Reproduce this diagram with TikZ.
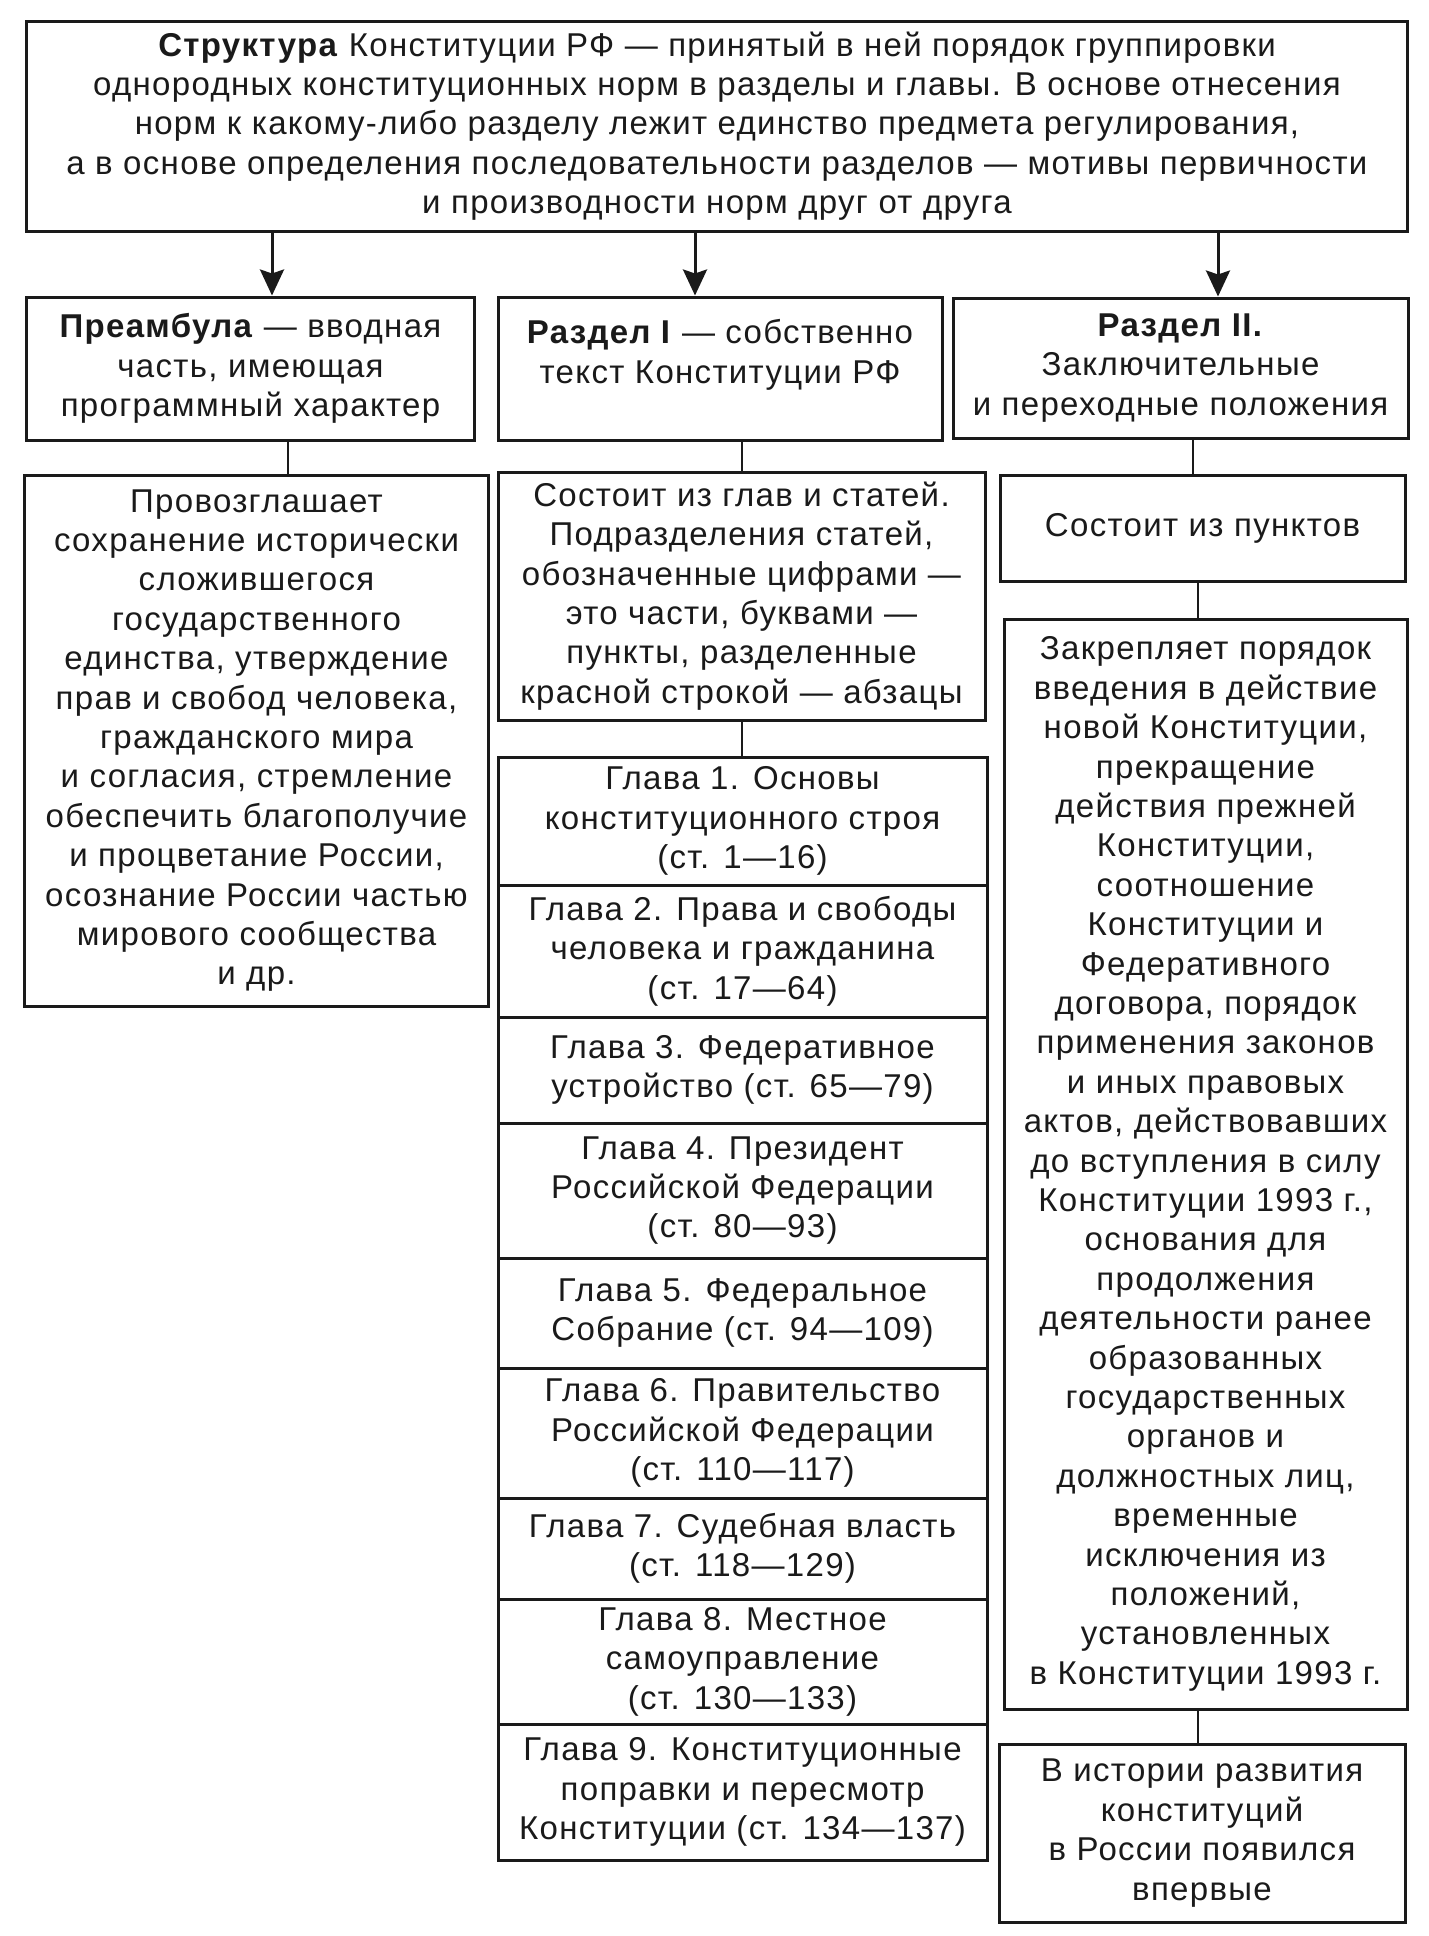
\documentclass[tikz,border=0pt]{standalone}
\usepackage{fontspec}
\setmainfont{Liberation Sans}[LetterSpace=4]
\usetikzlibrary{arrows.meta}
\definecolor{ink}{HTML}{1A1A1A}
\tikzset{
  box/.style={draw=ink, line width=3bp, inner sep=0pt, align=center, text=ink,
    font=\fontsize{33bp}{39.4bp}\selectfont},
  txt/.style={inner sep=0pt, align=center, text=ink, font=\fontsize{33bp}{39.4bp}\selectfont},
  conn/.style={draw=ink, line width=2.5bp},
  arr/.style={draw=ink, line width=3bp, -{Stealth[length=26bp,width=24bp,inset=4bp]}}
}
\begin{document}
\begin{tikzpicture}[x=1bp,y=-1bp]
\useasboundingbox[fill=white] (0,0) rectangle (1429,1936);
% top
\node[box, minimum width=1380bp, minimum height=210bp] (top) at (717,126)
 {\textbf{Структура} Конституции РФ — принятый в ней порядок группировки\\
  однородных конституционных норм в разделы и главы. В основе отнесения\\
  норм к какому-либо разделу лежит единство предмета регулирования,\\
  а в основе определения последовательности разделов — мотивы первичности\\
  и производности норм друг от друга};
% row 2
\node[box, minimum width=447bp, minimum height=143bp] (pre) at (250.5,368.5)
 {\textbf{Преамбула} — вводная\\ часть, имеющая\\ программный характер};
\node[box, minimum width=444bp, minimum height=143bp] (r1) at (720,368.5) {};
\node[txt] (r1t) at (720,355) {\textbf{Раздел I} — собственно\\ текст Конституции РФ};
\node[box, minimum width=455bp, minimum height=140bp] (r2) at (1180.5,368)
 {\textbf{Раздел II.}\\ Заключительные\\ и переходные положения};
% row 3
\node[box, minimum width=463bp, minimum height=531bp] (left) at (256.5,740.5)
 {Провозглашает\\ сохранение исторически\\ сложившегося\\ государственного\\
  единства, утверждение\\ прав и свобод человека,\\ гражданского мира\\
  и согласия, стремление\\ обеспечить благополучие\\ и процветание России,\\
  осознание России частью\\ мирового сообщества\\ и др.};
\node[box, minimum width=487bp, minimum height=248bp] (mid) at (741.5,596)
 {Состоит из глав и статей.\\ Подразделения статей,\\ обозначенные цифрами —\\
  это части, буквами —\\ пункты, разделенные\\ красной строкой — абзацы};
\node[box, minimum width=405bp, minimum height=106bp] (pun) at (1202.5,528)
 {Состоит из пунктов};
\node[box, minimum width=403bp, minimum height=1090bp] (big) at (1205.5,1164)
 {Закрепляет порядок\\ введения в действие\\ новой Конституции,\\ прекращение\\
  действия прежней\\ Конституции,\\ соотношение\\ Конституции и\\ Федеративного\\
  договора, порядок\\ применения законов\\ и иных правовых\\ актов, действовавших\\
  до вступления в силу\\ Конституции 1993 г.,\\ основания для\\ продолжения\\
  деятельности ранее\\ образованных\\ государственных\\ органов и\\
  должностных лиц,\\ временные\\ исключения из\\ положений,\\ установленных\\
  в Конституции 1993 г.};
\node[box, minimum width=406bp, minimum height=178bp] (hist) at (1202,1833)
 {В истории развития\\ конституций\\ в России появился\\ впервые};
% chapters
\node[box, minimum width=489bp, minimum height=128bp] (g1) at (742.5,821)
 {Глава 1. Основы\\ конституционного строя\\ (ст. 1—16)};
\node[box, minimum width=489bp, minimum height=132bp] (g2) at (742.5,951)
 {Глава 2. Права и свободы\\ человека и гражданина\\ (ст. 17—64)};
\node[box, minimum width=489bp, minimum height=106bp] (g3) at (742.5,1070)
 {Глава 3. Федеративное\\ устройство (ст. 65—79)};
\node[box, minimum width=489bp, minimum height=135bp] (g4) at (742.5,1190.5)
 {Глава 4. Президент\\ Российской Федерации\\ (ст. 80—93)};
\node[box, minimum width=489bp, minimum height=110bp] (g5) at (742.5,1313)
 {Глава 5. Федеральное\\ Собрание (ст. 94—109)};
\node[box, minimum width=489bp, minimum height=130bp] (g6) at (742.5,1433)
 {Глава 6. Правительство\\ Российской Федерации\\ (ст. 110—117)};
\node[box, minimum width=489bp, minimum height=101bp] (g7) at (742.5,1548.5)
 {Глава 7. Судебная власть\\ (ст. 118—129)};
\node[box, minimum width=489bp, minimum height=125bp] (g8) at (742.5,1661.5)
 {Глава 8. Местное\\ самоуправление\\ (ст. 130—133)};
\node[box, minimum width=489bp, minimum height=136bp] (g9) at (742.5,1792)
 {Глава 9. Конституционные\\ поправки и пересмотр\\ Конституции (ст. 134—137)};
% connector x positions
\coordinate (xa) at (272,0);
\coordinate (xb) at (695,0);
\coordinate (xc) at (1218,0);
\coordinate (xd) at (288,0);
\coordinate (xe) at (742,0);
\coordinate (xf) at (1193,0);
\coordinate (xg) at (1198,0);
% arrows
\draw[arr] (top.south -| xa) -- (pre.north -| xa);
\draw[arr] (top.south -| xb) -- (r1.north -| xb);
\draw[arr] (top.south -| xc) -- (r2.north -| xc);
% connectors
\draw[conn] (pre.south -| xd) -- (left.north -| xd);
\draw[conn] (r1.south -| xe) -- (mid.north -| xe);
\draw[conn] (r2.south -| xf) -- (pun.north -| xf);
\draw[conn] (pun.south -| xg) -- (big.north -| xg);
\draw[conn] (mid.south -| xe) -- (g1.north -| xe);
\draw[conn] (big.south -| xg) -- (hist.north -| xg);
\end{tikzpicture}
\end{document}
